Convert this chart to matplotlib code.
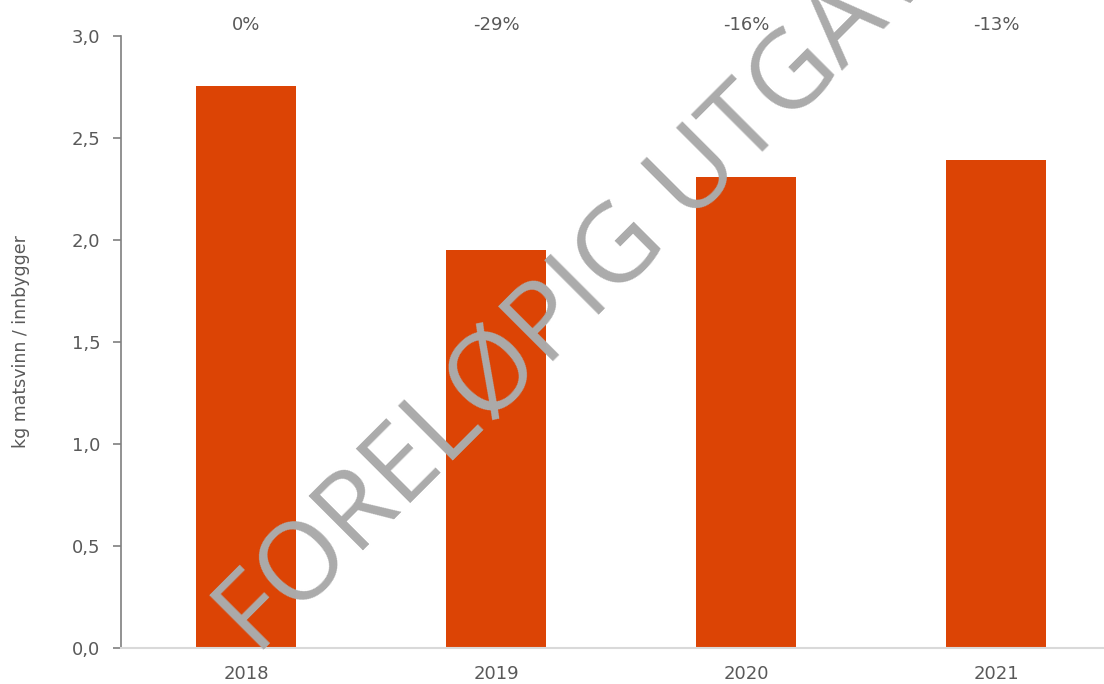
import matplotlib
matplotlib.use('Agg')
import matplotlib.pyplot as plt

years = ['2018', '2019', '2020', '2021']
values = [2.755, 1.95, 2.31, 2.39]
changes = ['0%', '-29%', '-16%', '-13%']

plt.rcParams['font.family'] = ['DejaVu Sans']
text_col = '#595959'

fig = plt.figure(figsize=(11.04, 6.84), dpi=100)
ax = fig.add_axes([121 / 1104, 36 / 684, (1104 - 121) / 1104, (648 - 36) / 684])

x = list(range(len(years)))
ax.bar(x, values, width=0.4, color='#DC4405', zorder=2)

ax.set_xlim(-0.5, (1104 - 121) / 250 - 0.5)
ax.set_ylim(0, 3.0)
ax.set_yticks([0, 0.5, 1.0, 1.5, 2.0, 2.5, 3.0])
ax.set_yticklabels(['0,0', '0,5', '1,0', '1,5', '2,0', '2,5', '3,0'])
ax.set_xticks(x)
ax.set_xticklabels(years)

for s in ['top', 'right']:
    ax.spines[s].set_visible(False)
ax.spines['left'].set_color('#7f7f7f')
ax.spines['left'].set_linewidth(1.2)
ax.spines['bottom'].set_color('#d9d9d9')
ax.spines['bottom'].set_linewidth(1.5)
ax.tick_params(axis='y', colors='#7f7f7f', labelcolor=text_col, labelsize=13, length=6, width=1.2, pad=9)
ax.tick_params(axis='x', length=0, labelcolor=text_col, labelsize=13, pad=12)
ax.set_ylabel('kg matsvinn / innbygger', color=text_col, fontsize=12.5, labelpad=30)

for i, c in enumerate(changes):
    ax.text(i, 3.055, c, ha='center', va='center', fontsize=13, color=text_col, clip_on=False)

# watermark, runs off the top edge like the original
fig.text(257 / 1104, 1 - 657 / 684, 'FORELØPIG UTGAVE', rotation=45, ha='left', va='baseline',
         fontsize=78, color='#ababab', rotation_mode='anchor', zorder=5, family='Open Sans')

fig.savefig('out.png', dpi=100)
